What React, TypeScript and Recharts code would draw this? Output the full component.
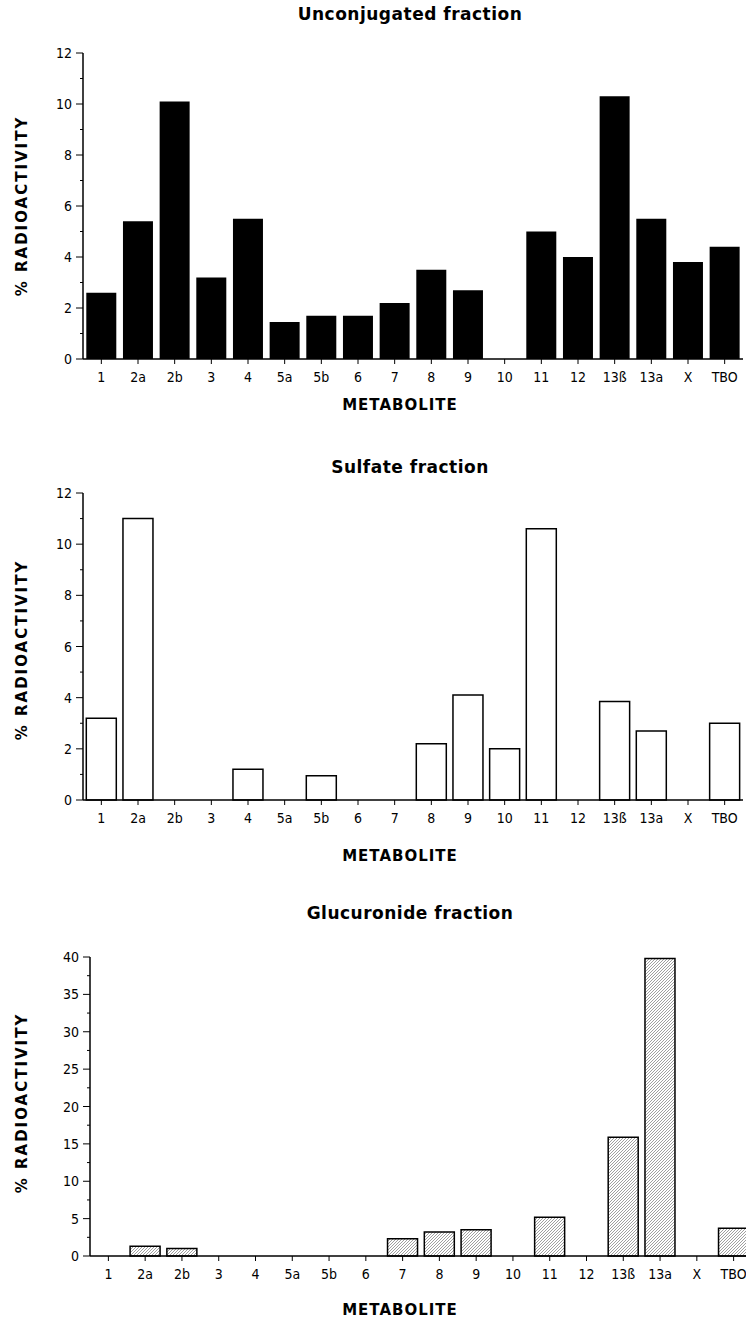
import React from "react"
import { Bar, BarChart, XAxis, YAxis } from "recharts"

const categories = ["1", "2a", "2b", "3", "4", "5a", "5b", "6", "7", "8", "9", "10", "11", "12", "13ß", "13a", "X", "TBO"]

const unconjugated = [2.6, 5.4, 10.1, 3.2, 5.5, 1.45, 1.7, 1.7, 2.2, 3.5, 2.7, 0, 5.0, 4.0, 10.3, 5.5, 3.8, 4.4]
const sulfate = [3.2, 11.0, 0, 0, 1.2, 0, 0.95, 0, 0, 2.2, 4.1, 2.0, 10.6, 0, 3.85, 2.7, 0, 3.0]
const glucuronide = [0, 1.3, 1.0, 0, 0, 0, 0, 0, 2.3, 3.2, 3.5, 0, 5.2, 0, 15.9, 39.8, 0, 3.7]

const percentTicks = [0, 1, 2, 3, 4, 5, 6, 7, 8, 9, 10, 11, 12]
const glucTicks = [0, 2.5, 5, 7.5, 10, 12.5, 15, 17.5, 20, 22.5, 25, 27.5, 30, 32.5, 35, 37.5, 40]

const TICK_FONT = "'Liberation Sans Narrow', 'DejaVu Sans Condensed', 'Arial Narrow', sans-serif"
const TITLE_FONT = "'DejaVu Sans', Verdana, sans-serif"

const toRows = (values: number[]) => categories.map((name, i) => ({ name, value: values[i] }))

function YTick(props: any) {
  const { x, y, payload, majorStep } = props
  const v = payload.value
  const major = Math.abs(v / majorStep - Math.round(v / majorStep)) < 1e-6
  const axisX = x + 11
  return (
    <g>
      <line x1={axisX - (major ? 7 : 3)} x2={axisX} y1={y} y2={y} stroke="#000" strokeWidth={1} />
      {major && (
        <text x={x} y={y} textAnchor="end" dominantBaseline="central" fontSize={14} fontFamily={TICK_FONT} fill="#000">
          {v}
        </text>
      )}
    </g>
  )
}

function XTick(props: any) {
  const { x, y, payload } = props
  return (
    <text x={x} y={y} textAnchor="middle" dominantBaseline="hanging" fontSize={14} fontFamily={TICK_FONT} fill="#000">
      {payload.value}
    </text>
  )
}

type PanelProps = {
  top: number
  height: number
  width: number
  plotTop: number
  plotBottom: number
  axisWidth: number
  values: number[]
  ticks: number[]
  majorStep: number
  max: number
  fill: string
  stroke?: string
  title: string
  titleY: number
  yTitleY: number
  xTitleY: number
}

function Panel(p: PanelProps) {
  const label: React.CSSProperties = {
    position: "absolute",
    fontFamily: TITLE_FONT,
    fontWeight: "bold",
    color: "#000",
    whiteSpace: "nowrap",
    lineHeight: "20px",
  }
  return (
    <>
      <div style={{ ...label, left: 410, top: p.titleY - 10, transform: "translateX(-50%)", fontSize: 17, letterSpacing: 0.5 }}>
        {p.title}
      </div>
      <div
        style={{
          ...label,
          left: 22,
          top: p.yTitleY - 10,
          transform: "translateX(-50%) rotate(-90deg)",
          fontSize: 15,
          letterSpacing: 2,
        }}
      >
        % RADIOACTIVITY
      </div>
      <div style={{ ...label, left: 400, top: p.xTitleY - 10, transform: "translateX(-50%)", fontSize: 15, letterSpacing: 1 }}>
        METABOLITE
      </div>
      <div style={{ position: "absolute", left: 0, top: p.top }}>
        <BarChart
          width={p.width}
          height={p.height}
          data={toRows(p.values)}
          margin={{ top: p.plotTop, right: p.width > 746 ? 0 : 3, bottom: 0, left: 0 }}
          barCategoryGap="9%"
        >
          <defs>
            <pattern id="hatch" width="3" height="3" patternUnits="userSpaceOnUse">
              <rect width="3" height="3" fill="#fff" />
              <path d="M-1,1 l2,-2 M0,3 l3,-3 M2,4 l2,-2" stroke="#777" strokeWidth={0.7} />
            </pattern>
          </defs>
          <XAxis
            dataKey="name"
            interval={0}
            height={p.height - p.plotBottom}
            axisLine={{ stroke: "#000", strokeWidth: 1.5 }}
            tickLine={{ stroke: "#000" }}
            tickSize={5}
            tickMargin={8}
            tick={<XTick />}
          />
          <YAxis
            width={p.axisWidth}
            domain={[0, p.max]}
            ticks={p.ticks}
            interval={0}
            allowDecimals
            axisLine={{ stroke: "#000", strokeWidth: 1.5 }}
            tickLine={false}
            tickSize={7}
            tickMargin={4}
            tick={<YTick majorStep={p.majorStep} />}
          />
          <Bar
            dataKey="value"
            fill={p.fill}
            stroke={p.stroke}
            strokeWidth={p.stroke ? 1.5 : 0}
            isAnimationActive={false}
          />
        </BarChart>
      </div>
    </>
  )
}

export default function App() {
  return (
    <div
      style={{
        position: "absolute",
        left: 0,
        top: 0,
        width: 746,
        height: 1324,
        overflow: "hidden",
        background: "#fff",
      }}
    >
      <Panel
        top={0}
        height={400}
        width={746}
        plotTop={53}
        plotBottom={359}
        axisWidth={83}
        values={unconjugated}
        ticks={percentTicks}
        majorStep={2}
        max={12}
        fill="#000"
        title="Unconjugated fraction"
        titleY={14}
        yTitleY={206}
        xTitleY={405}
      />
      <Panel
        top={440}
        height={420}
        width={746}
        plotTop={53}
        plotBottom={360}
        axisWidth={83}
        values={sulfate}
        ticks={percentTicks}
        majorStep={2}
        max={12}
        fill="#fff"
        stroke="#000"
        title="Sulfate fraction"
        titleY={467}
        yTitleY={650}
        xTitleY={856}
      />
      <Panel
        top={900}
        height={424}
        width={752}
        plotTop={57}
        plotBottom={356}
        axisWidth={90}
        values={glucuronide}
        ticks={glucTicks}
        majorStep={5}
        max={40}
        fill="url(#hatch)"
        stroke="#000"
        title="Glucuronide fraction"
        titleY={913}
        yTitleY={1103}
        xTitleY={1310}
      />
    </div>
  )
}
